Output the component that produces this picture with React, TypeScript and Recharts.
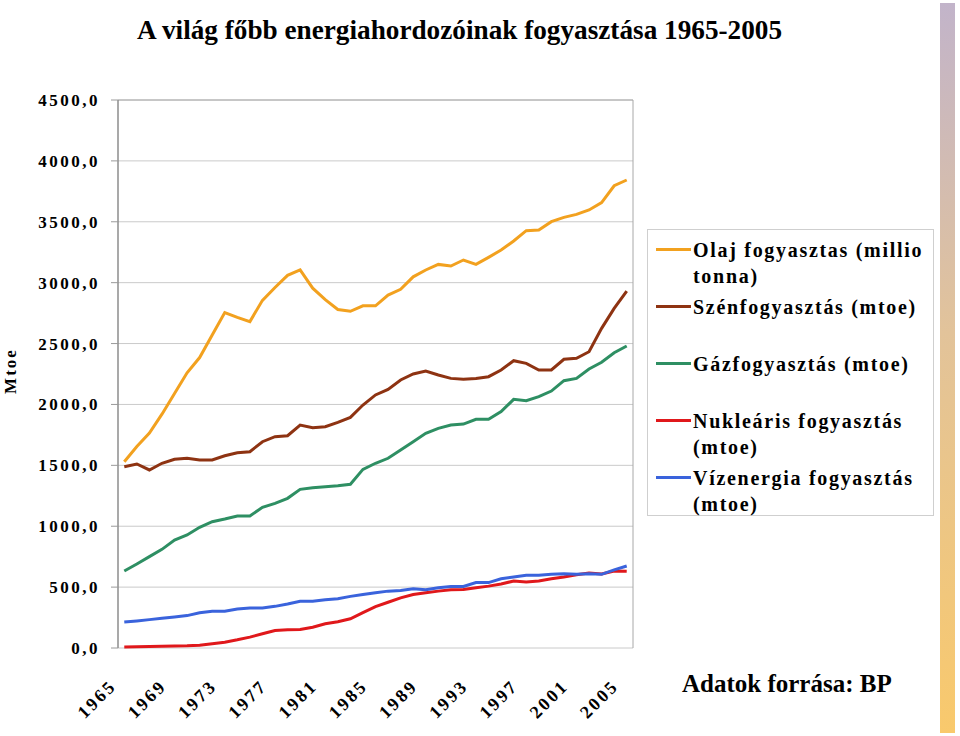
import { LineChart, Line, XAxis, YAxis, CartesianGrid, ReferenceLine } from 'recharts'

// Évek (kategóriák)
const years = [
  1965, 1966, 1967, 1968, 1969, 1970, 1971, 1972, 1973, 1974,
  1975, 1976, 1977, 1978, 1979, 1980, 1981, 1982, 1983, 1984,
  1985, 1986, 1987, 1988, 1989, 1990, 1991, 1992, 1993, 1994,
  1995, 1996, 1997, 1998, 1999, 2000, 2001, 2002, 2003, 2004,
  2005,
]

// Fogyasztás (mtoe)
const olaj = [
  1530, 1655, 1765, 1920, 2090, 2260, 2385, 2570, 2755, 2715,
  2680, 2855, 2960, 3060, 3105, 2955, 2860, 2780, 2765, 2810,
  2810, 2898, 2945, 3048, 3104, 3150, 3137, 3186, 3150, 3208,
  3268, 3342, 3427, 3432, 3501, 3536, 3561, 3597, 3657, 3796,
  3843,
]
const szen = [
  1489, 1511, 1462, 1517, 1550, 1558, 1544, 1544, 1579, 1604,
  1612, 1694, 1735, 1743, 1831, 1809, 1817, 1853, 1894, 1995,
  2078, 2124, 2201, 2250, 2275, 2242, 2214, 2206, 2214, 2228,
  2283, 2359, 2337, 2283, 2283, 2371, 2379, 2433, 2625, 2789,
  2931,
]
const gaz = [
  632, 690, 750, 810, 887, 928, 991, 1037, 1059, 1084,
  1084, 1155, 1188, 1229, 1303, 1316, 1325, 1333, 1344, 1467,
  1517, 1558, 1626, 1694, 1763, 1804, 1831, 1839, 1878, 1878,
  1941, 2042, 2031, 2064, 2110, 2195, 2214, 2291, 2346, 2425,
  2480,
]
const nuklearis = [
  8, 10, 12, 14, 16, 18, 23, 35, 48, 67,
  89, 117, 144, 150, 152, 171, 199, 215, 240, 290,
  340, 376, 412, 439, 453, 467, 478, 480, 494, 508,
  526, 550, 542, 550, 569, 583, 602, 615, 607, 632,
  630,
]
const viz = [
  213, 222, 233, 244, 255, 266, 290, 301, 301, 320,
  328, 328, 342, 361, 383, 383, 396, 405, 424, 439,
  453, 467, 472, 486, 478, 494, 505, 505, 537, 537,
  569, 583, 597, 597, 605, 610, 605, 610, 605, 641,
  673,
]

const yTicks = [0, 500, 1000, 1500, 2000, 2500, 3000, 3500, 4000, 4500]
const labelYears = [1965, 1969, 1973, 1977, 1981, 1985, 1989, 1993, 1997, 2001, 2005]

const series = [
  { key: 'olaj', name: 'Olaj fogyasztas (millio\ntonna)', color: '#f2a11f' },
  { key: 'szen', name: 'Szénfogyasztás (mtoe)', color: '#8e3312' },
  { key: 'gaz', name: 'Gázfogyasztás (mtoe)', color: '#2e8f63' },
  { key: 'nuklearis', name: 'Nukleáris fogyasztás\n(mtoe)', color: '#e0181b' },
  { key: 'viz', name: 'Vízenergia fogyasztás\n(mtoe)', color: '#3a63dc' },
]

const data = years.map((year, i) => ({
  year,
  olaj: olaj[i],
  szen: szen[i],
  gaz: gaz[i],
  nuklearis: nuklearis[i],
  viz: viz[i],
}))

// osztásjelek a kategóriák határán
const boundaries = [...years.map((y) => y - 0.5), years[years.length - 1] + 0.5]
const xDomain = [boundaries[0], boundaries[boundaries.length - 1]]

const FONT = '"Liberation Serif", "Times New Roman", serif'

function LegendBox() {
  return (
    <div
      style={{
        position: 'absolute',
        left: 647,
        top: 229,
        width: 287,
        height: 287,
        border: '1px solid #cfcfcf',
        boxSizing: 'border-box',
        fontFamily: FONT,
        fontWeight: 'bold',
        fontSize: 20,
        letterSpacing: 1.7,
        lineHeight: '26px',
      }}
    >
      {series.map((s, i) => (
        <div key={s.key} style={{ position: 'absolute', left: 0, top: 7 + i * 57, width: 300 }}>
          <div
            style={{
              position: 'absolute',
              left: 8,
              top: 11,
              width: 35,
              height: 3,
              background: s.color,
            }}
          />
          <div style={{ position: 'absolute', left: 45, top: 0, whiteSpace: 'pre' }}>{s.name}</div>
        </div>
      ))}
    </div>
  )
}

export default function App() {
  return (
    <div style={{ position: 'absolute', left: 0, top: 0, width: 960, height: 736, background: '#fff' }}>
      <LineChart
        width={960}
        height={736}
        data={data}
        margin={{ top: 100, right: 327, bottom: 0, left: 58 }}
      >
        <CartesianGrid vertical={false} stroke="#cacaca" />
        <XAxis
          xAxisId="marks"
          dataKey="year"
          type="number"
          domain={xDomain}
          ticks={boundaries}
          interval={0}
          height={0}
          tick={false}
          tickSize={5}
          tickLine={{ stroke: '#8c8c8c' }}
          axisLine={{ stroke: '#8c8c8c', strokeWidth: 1.5 }}
        />
        <XAxis
          dataKey="year"
          type="number"
          domain={xDomain}
          ticks={labelYears}
          interval={0}
          height={88}
          tickSize={0}
          tickMargin={0}
          tickLine={false}
          axisLine={false}
          tick={{
            angle: -45,
            textAnchor: 'end',
            dx: -16,
            dy: 30,
            fontFamily: FONT,
            fontWeight: 'bold',
            fontSize: 18,
            letterSpacing: 2.5,
            fill: '#000',
          }}
        />
        <YAxis
          width={60}
          domain={[0, 4500]}
          ticks={yTicks}
          interval={0}
          tickSize={7}
          tickMargin={11}
          tickLine={{ stroke: '#9a9a9a' }}
          axisLine={{ stroke: '#8c8c8c', strokeWidth: 1.5 }}
          tickFormatter={(v: number) => v.toFixed(1).replace('.', ',')}
          tick={{ fontFamily: FONT, fontWeight: 'bold', fontSize: 17, fill: '#000', letterSpacing: 2.5 }}
        />
        <ReferenceLine y={4500} stroke="#a8a8a8" />
        <ReferenceLine x={xDomain[1]} stroke="#a8a8a8" />
        {series.map((s) => (
          <Line
            key={s.key}
            dataKey={s.key}
            name={s.name}
            stroke={s.color}
            strokeWidth={3}
            dot={false}
            isAnimationActive={false}
          />
        ))}
      </LineChart>

      <svg
        width={960}
        height={736}
        style={{ position: 'absolute', left: 0, top: 0, pointerEvents: 'none' }}
      >
        <text
          x={137}
          y={39}
          textLength={645}
          lengthAdjust="spacingAndGlyphs"
          fontFamily={FONT}
          fontWeight="bold"
          fontSize={27}
        >
          A világ főbb energiahordozóinak fogyasztása 1965-2005
        </text>
        <text
          x={0}
          y={0}
          transform="translate(16 371) rotate(-90)"
          textAnchor="middle"
          fontFamily={FONT}
          fontWeight="bold"
          fontSize={17}
          letterSpacing={2}
        >
          Mtoe
        </text>
        <text x={682} y={692} fontFamily={FONT} fontWeight="bold" fontSize={25}>
          Adatok forrása: BP
        </text>
      </svg>

      <LegendBox />

      <div
        style={{
          position: 'absolute',
          left: 940,
          top: 3,
          width: 15,
          height: 730,
          background: 'linear-gradient(#c2b4ca, #e2c39a 45%, #f9c96c)',
        }}
      />
    </div>
  )
}
